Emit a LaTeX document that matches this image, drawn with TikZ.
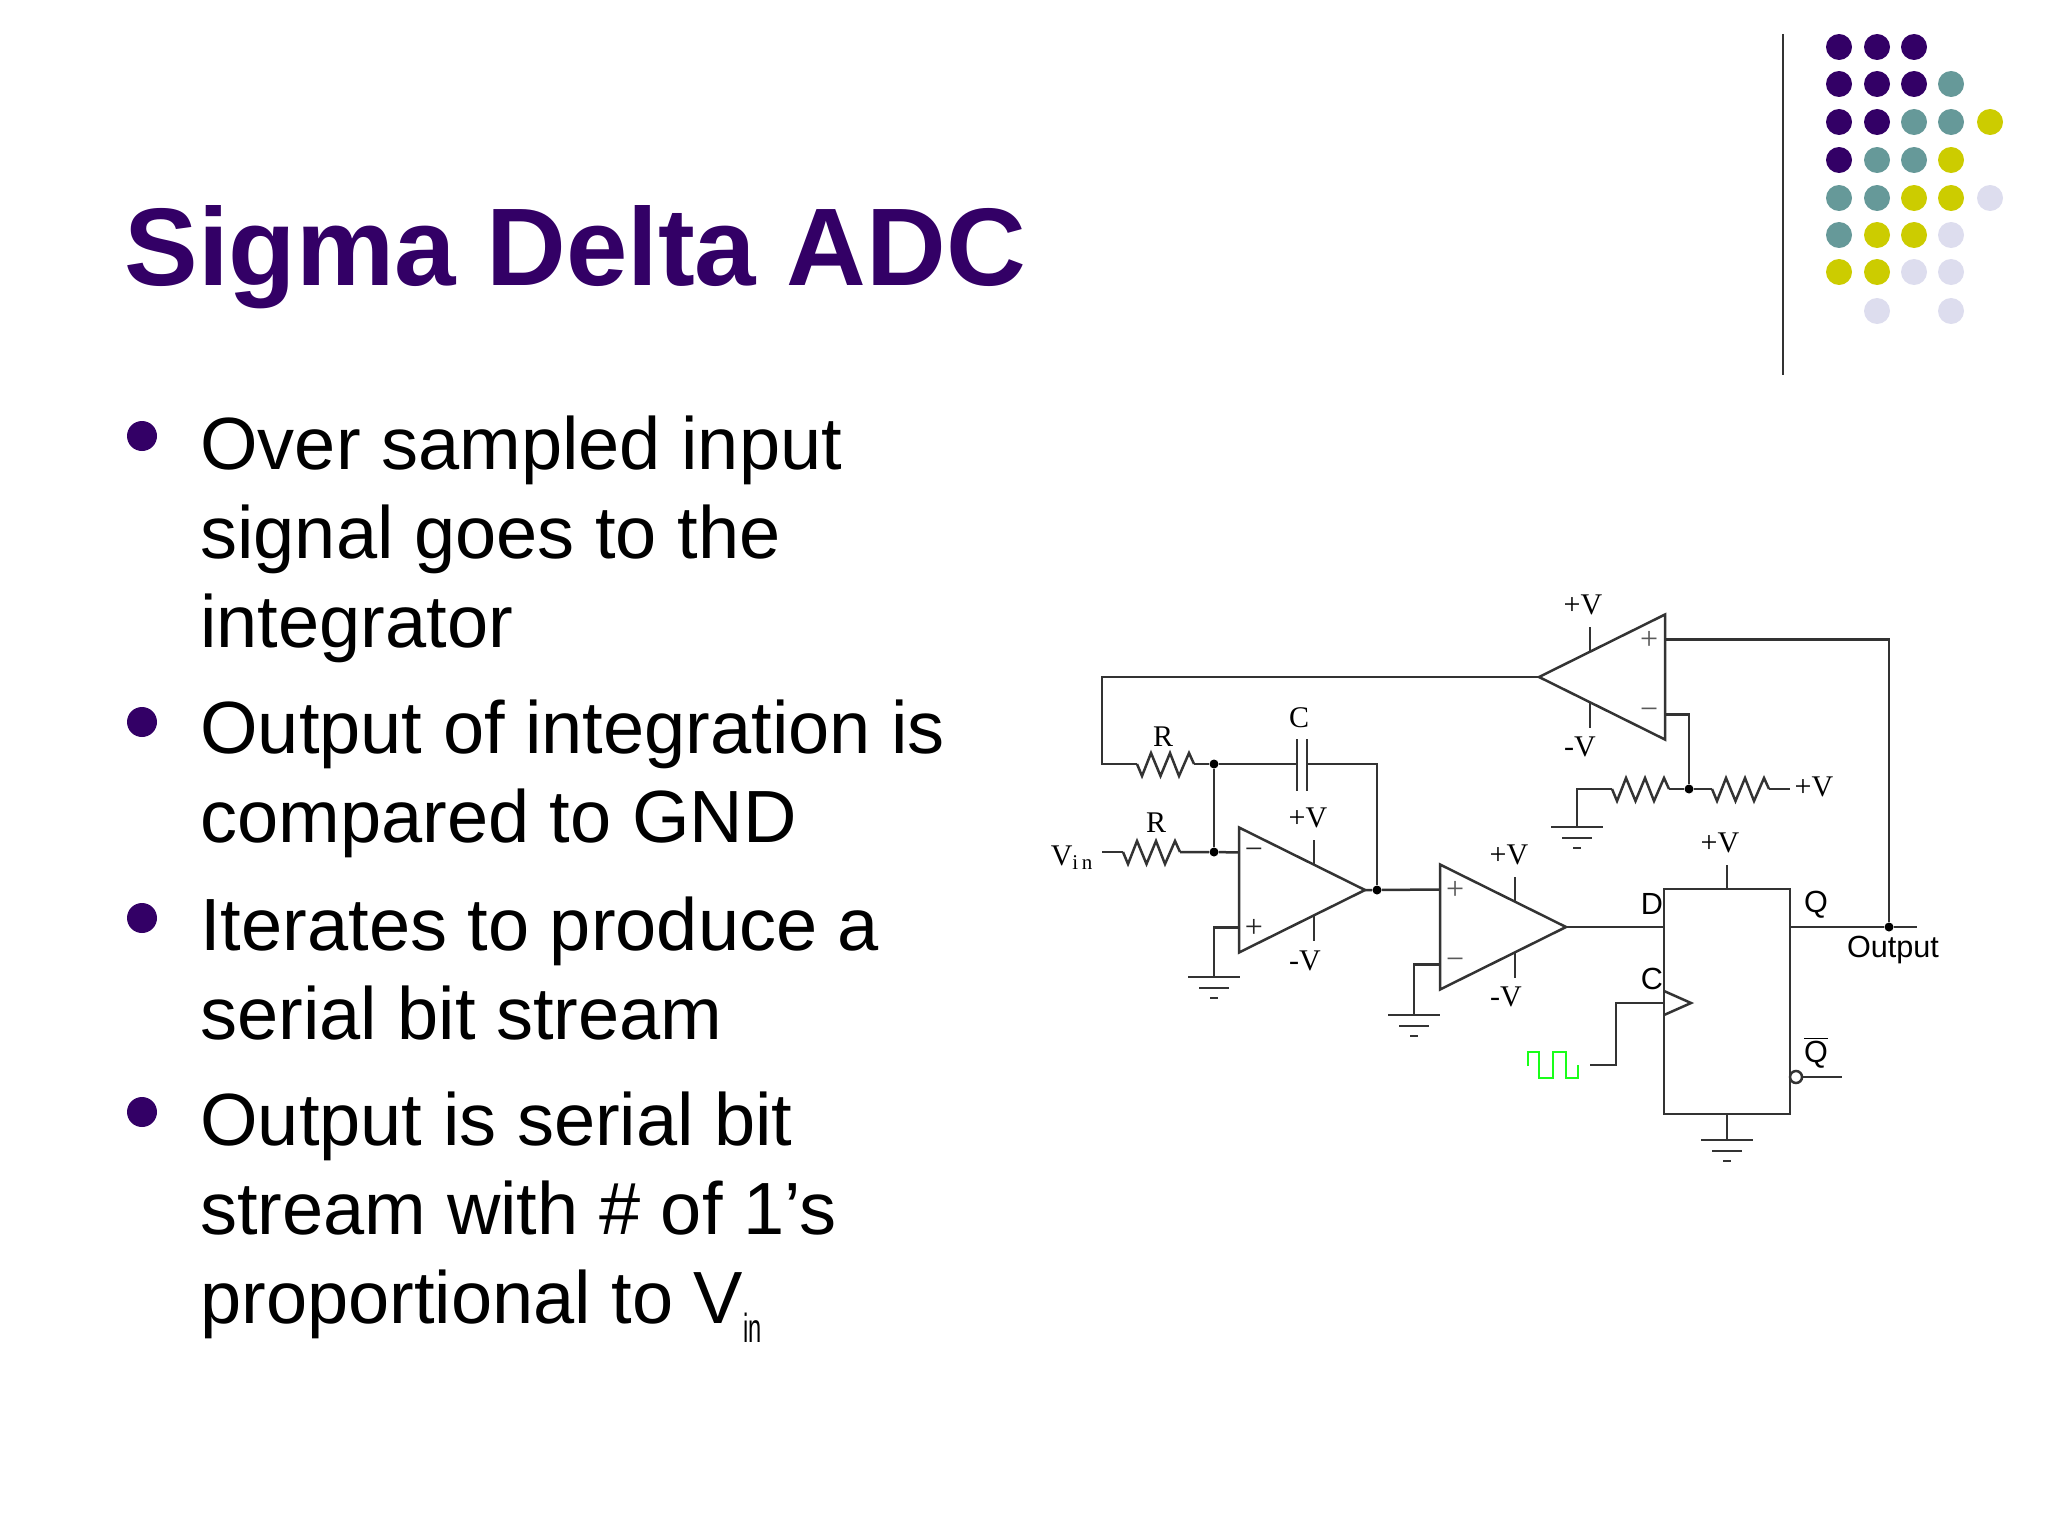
\documentclass[tikz,border=0pt]{standalone}
\usepackage{fontspec}
\setmainfont{Liberation Sans}
\newfontfamily\serifpart{Liberation Serif}
\definecolor{slidepurple}{HTML}{330066}
\definecolor{slideteal}{HTML}{669999}
\definecolor{slideyellow}{HTML}{CCCC00}
\definecolor{slidelilac}{HTML}{DDDDEE}
\tikzset{
	wire/.style={line width=1.25pt, color=black!80},
	joint/.style={circle, fill=black, inner sep=0pt, minimum size=4.5pt},
	titletext/.style={anchor=base west, inner sep=0pt, color=slidepurple, font=\fontsize{55.2}{60}\selectfont\bfseries},
	itemtext/.style={anchor=base west, inner sep=0pt, align=left, font=\fontsize{37}{44.5}\selectfont},
	itemdot/.style={circle, fill=slidepurple, inner sep=0pt, minimum size=15pt},
	partlabel/.style={inner sep=0pt, font=\fontsize{15}{17}\selectfont\serifpart},
	pinlabel/.style={inner sep=0pt, font=\fontsize{15.3}{17}\selectfont},
	signmark/.style={inner sep=0pt, color=black!65, font=\fontsize{16}{16}\selectfont\serifpart},
	opamp/.pic={
		\draw[wire, line join=miter] (0,-62.5) -- (0,62.5) -- (126,0) -- cycle;
		\draw[wire] (75,-50) -- (75,-25);
		\draw[wire] (75,25) -- (75,51);
		\coordinate (-in1) at (0,-37.5);
		\coordinate (-in2) at (0,37.5);
		\coordinate (-out) at (126,0);
	},
	resistor/.pic={
		\draw[wire] (0,0) -- (5,12) -- (14,-11) -- (23.5,12) -- (33,-11) -- (42,12) -- (52,-11) -- (57,0);
		\coordinate (-l) at (0,0);
		\coordinate (-r) at (57,0);
	},
	earth/.pic={
		\draw[wire] (-26,0) -- (26,0);
		\draw[wire] (-15,11) -- (15,11);
		\draw[wire] (-4,21) -- (4,21);
		\coordinate (-top) at (0,0);
	},
}

\begin{document}
\begin{tikzpicture}[x=0.5pt, y=-0.5pt]
	\useasboundingbox (0,0) rectangle (2048,1536);
	%%%%% SLIDE %%%%%
	\node[titletext] (title) at (124,285) {Sigma Delta ADC};

	\node[itemdot] (dot1) at (142,436) {};
	\node[itemdot] (dot2) at (142,722) {};
	\node[itemdot] (dot3) at (142,918) {};
	\node[itemdot] (dot4) at (142,1112) {};

	\node[itemtext] (item1) at (200,647) {Over sampled input\\signal goes to the\\integrator};
	\node[itemtext] (item2) at (200,842) {Output of integration is\\compared to GND};
	\node[itemtext] (item3) at (200,1039) {Iterates to produce a\\serial bit stream};
	\node[itemtext] (item4) at (200,1323) {Output is serial bit\\stream with \# of 1’s\\proportional to V\raisebox{-9.5pt}{\scalebox{0.32}[0.55]{in}}};

	\draw[wire] (1783,34) -- (1783,375);
	\foreach \px/\py/\dotcolor in {
		1839/47/slidepurple, 1877/47/slidepurple, 1914/47/slidepurple,
		1839/84/slidepurple, 1877/84/slidepurple, 1914/84/slidepurple, 1951/84/slideteal,
		1839/122/slidepurple, 1877/122/slidepurple, 1914/122/slideteal, 1951/122/slideteal, 1990/122/slideyellow,
		1839/160/slidepurple, 1877/160/slideteal, 1914/160/slideteal, 1951/160/slideyellow,
		1839/198/slideteal, 1877/198/slideteal, 1914/198/slideyellow, 1951/198/slideyellow, 1990/198/slidelilac,
		1839/235/slideteal, 1877/235/slideyellow, 1914/235/slideyellow, 1951/235/slidelilac,
		1839/272/slideyellow, 1877/272/slideyellow, 1914/272/slidelilac, 1951/272/slidelilac,
		1877/311/slidelilac, 1951/311/slidelilac}
		\fill[\dotcolor] (\px,\py) circle (13);

	%%%%% CIRCUIT %%%%%
	\pic (opa) at (1239,890) {opamp};
	\pic (opb) at (1440,927) {opamp};
	\pic[xscale=-1] (opc) at (1665,677) {opamp};

	\pic (ra) at (1137,764) {resistor};
	\pic (rb) at (1123,852) {resistor};
	\pic (rc) at (1612,789) {resistor};
	\pic (rd) at (1712,789) {resistor};

	\pic (gnda) at (1214,977) {earth};
	\pic (gndb) at (1414,1015) {earth};
	\pic (gndc) at (1577,827) {earth};
	\pic (gndd) at (1727,1140) {earth};

	\node[draw, wire, inner sep=0pt, outer sep=0pt, minimum width=63pt, minimum height=112.5pt] (ff) at (1727,1001.5) {};

	\node[joint] (ja) at (1214,764) {};
	\node[joint] (jb) at (1214,852) {};
	\node[joint] (jc) at (1377,890) {};
	\node[joint] (jd) at (1689,789) {};
	\node[joint] (je) at (1889,927) {};

	\coordinate (fbk) at (1102,764);
	\coordinate (vin) at (1102,852);
	\coordinate (capl) at (1297,764);
	\coordinate (capr) at (1307,764);
	\coordinate (supply) at (1790,789);
	\coordinate (outend) at (1917,927);
	\coordinate (ffpin) at (1727,865);
	\coordinate (clk) at (1664,1003);
	\coordinate (clkturn) at (1616,1065);
	\coordinate (clkend) at (1590,1065);
	\coordinate (qbarend) at (1842,1077);

	\draw[wire] (opc-out) -| (fbk) -- (ra-l);
	\draw[wire] (ra-r) -- (ja) -- (capl);
	\draw[wire] (capr) -| (jc);
	\draw[wire] (1297,739) -- (1297,791);
	\draw[wire] (1307,739) -- (1307,791);
	\draw[wire] (ja) -- (jb);
	\draw[wire] (vin) -- (rb-l);
	\draw[wire] (rb-r) -- (jb) -- (opa-in1);
	\draw[wire] (opa-in2) -| (gnda-top);
	\draw[wire] (opa-out) -- (jc) -- (opb-in1);
	\draw[wire] (opb-in2) -| (gndb-top);
	\draw[wire] (opb-out) -- (ff.west |- opb-out);
	\draw[wire] (ff.east |- opb-out) -- (je) -- (outend);
	\draw[wire] (opc-in1) -| (je);
	\draw[wire] (opc-in2) -| (jd);
	\draw[wire] (gndc-top) |- (rc-l);
	\draw[wire] (rc-r) -- (jd) -- (rd-l);
	\draw[wire] (rd-r) -- (supply);
	\draw[wire] (ff.north) -- (ffpin);
	\draw[wire] (ff.south) -- (gndd-top);
	\draw[wire] (1664,991) -- (1691,1003) -- (1664,1015);
	\draw[wire] (clk) -| (clkturn) -- (clkend);
	\node[draw, wire, fill=white, circle, inner sep=0pt, outer sep=0pt, minimum size=6pt] (qb) at (1796,1077) {};
	\draw[wire] (qb) -- (qbarend);
	\draw[line width=0.8pt, color=green!90!white] (1528,1066) |- (1539,1052) |- (1553,1078) |- (1566,1052) |- (1578,1078) -- (1578,1065);

	\node[partlabel] (lblra) at (1163,737) {R};
	\node[partlabel] (lblrb) at (1156,823) {R};
	\node[partlabel] (lblc) at (1299,718) {C};
	\node[partlabel] (lblvin) at (1072,858) {V\textsubscript{i\,n}};
	\node[partlabel] (lblpa) at (1308,818) {+V};
	\node[partlabel] (lblma) at (1305,961) {-V};
	\node[partlabel] (lblpb) at (1509,855) {+V};
	\node[partlabel] (lblmb) at (1506,997) {-V};
	\node[partlabel] (lblpc) at (1583,605) {+V};
	\node[partlabel] (lblmc) at (1580,747) {-V};
	\node[partlabel] (lblpd) at (1814,787) {+V};
	\node[partlabel] (lblpe) at (1720,843) {+V};

	\node[signmark, color=black!85] (sna) at (1254,854) {−};
	\node[signmark, color=black!85] (spa) at (1254,928) {+};
	\node[signmark] (spb) at (1455,890) {+};
	\node[signmark] (snb) at (1455,964) {−};
	\node[signmark] (spc) at (1649,640) {+};
	\node[signmark] (snc) at (1649,714) {−};

	\node[pinlabel] (lbld) at (1652,904) {D};
	\node[pinlabel] (lblclk) at (1652,979) {C};
	\node[pinlabel] (lblq) at (1816,905) {Q};
	\node[pinlabel] (lblqbar) at (1816,1053) {$\overline{\mbox{Q}}$};
	\node[pinlabel] (lblout) at (1893,950) {Output};
	%%%%% END %%%%%
\end{tikzpicture}
\end{document}
